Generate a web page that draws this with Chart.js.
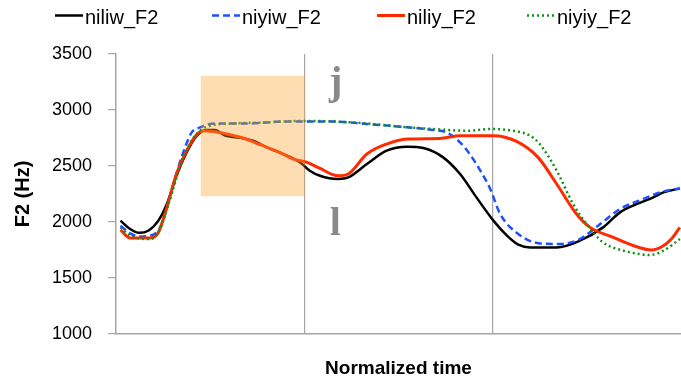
<!DOCTYPE html>
<html><head><meta charset="utf-8">
<script src="https://cdn.jsdelivr.net/npm/chart.js@4"></script>
<style>html,body{margin:0;padding:0;background:#fff}</style>
</head><body>
<canvas id="c" width="681" height="382"></canvas>
<script>
// ---- data ----
const seriesNames = ['niliw_F2', 'niyiw_F2', 'niliy_F2', 'niyiy_F2'];

const niliwTime = [0.8,2.5,4.1,5.7,7.5,9.0,10.7,12.5,14.3,16.1,17.5,19.3,21.4,24.3,26.7,29.6,32.6,34.3,36.1,39.3,41.1,44.4,47.9,51.5,54.4,57.9,60.9,63.8,66.8,69.2,71.2,73.3,78.0,82.1,86.2,89.2,92.2,95.1,96.9,99.8];
const niliwF2   = [2012,1938,1904,1922,2012,2160,2413,2621,2771,2821,2821,2771,2755,2726,2666,2607,2532,2458,2413,2384,2398,2518,2637,2672,2660,2577,2428,2220,2012,1878,1797,1773,1773,1833,1952,2086,2161,2220,2264,2300];

const niyiwTime = [0.8,2.5,4.2,6.6,8.1,9.9,11.6,13.4,14.9,17.5,23.7,29.6,36.1,39.6,44.4,50.3,56.2,58.5,60.9,62.7,64.4,66.2,68.0,71.2,75.0,78.6,82.1,85.7,89.2,93.3,96.9,99.8];
const niyiwF2   = [1967,1898,1871,1887,1982,2295,2577,2800,2845,2880,2880,2898,2898,2895,2875,2851,2821,2800,2711,2600,2465,2300,2071,1893,1809,1804,1848,1982,2116,2205,2273,2300];

const niliyTime = [0.8,2.5,6.0,7.5,9.0,10.7,12.5,14.3,15.5,17.2,19.6,22.5,25.5,29.0,31.4,33.8,36.1,39.3,41.1,44.4,47.9,51.5,57.3,60.9,66.8,70.9,74.7,78.0,81.5,83.9,88.0,91.6,94.8,96.6,98.3,99.8];
const niliyF2   = [1929,1857,1857,1907,2130,2429,2637,2780,2815,2809,2786,2750,2690,2621,2562,2532,2478,2413,2429,2607,2696,2741,2746,2771,2771,2720,2577,2339,2071,1952,1863,1788,1750,1779,1848,1952];

const niyiyTime = [0.8,2.5,6.0,7.5,9.3,11.3,13.4,14.9,16.6,20.8,26.7,32.6,38.5,44.4,50.3,56.2,62.1,66.2,70.9,73.3,75.0,78.0,80.9,83.3,86.2,89.8,92.7,94.5,96.9,99.8];
const niyiyF2   = [1952,1878,1848,1907,2161,2487,2726,2815,2860,2880,2889,2902,2898,2880,2851,2830,2815,2830,2809,2771,2696,2458,2161,1982,1818,1744,1714,1705,1744,1848];

const yMin = 1000, yMax = 3500, yStep = 500;
const xTitle = 'Normalized time';
const yTitle = 'F2 (Hz)';
const boundaryTimes = [100 / 3, 200 / 3];          // vertical guide lines
const highlightTime = [15.0, 33.4];                 // shaded box, time range
const highlightF2 = [2230, 3305];                   // shaded box, F2 range
const segmentLabels = ['j', 'l'];
const segmentLabelTime = [38.9, 38.8];
const segmentLabelF2 = [3143, 1884];

// ---- styling ----
const FONT = '"Liberation Sans", Arial, sans-serif';
const styles = [
  { color: '#000000', width: 2.5, dash: [] },
  { color: '#1f4fff', width: 2.5, dash: [7, 4] },
  { color: '#ff2a00', width: 3,   dash: [] },
  { color: '#129212', width: 2.5, dash: [2, 3] }
];
const series = [
  [niliwTime, niliwF2], [niyiwTime, niyiwF2], [niliyTime, niliyF2], [niyiyTime, niyiyF2]
];

const datasets = series.map(([t, v], i) => ({
  label: seriesNames[i],
  data: t.map((x, k) => ({ x: x, y: v[k] })),
  borderColor: styles[i].color,
  backgroundColor: styles[i].color,
  borderWidth: styles[i].width,
  borderDash: styles[i].dash,
  pointRadius: 0,
  cubicInterpolationMode: 'monotone',
  fill: false,
  order: 4 - i
}));

// shaded box + segment letters drawn over the lines
const overlayPlugin = {
  id: 'overlay',
  afterDatasetsDraw(chart) {
    const { ctx, scales: { x, y } } = chart;
    ctx.save();
    const x0 = x.getPixelForValue(highlightTime[0]), x1 = x.getPixelForValue(highlightTime[1]);
    const y0 = y.getPixelForValue(highlightF2[1]), y1 = y.getPixelForValue(highlightF2[0]);
    ctx.fillStyle = 'rgba(250,160,40,0.36)';
    ctx.fillRect(x0, y0, x1 - x0, y1 - y0);
    ctx.fillStyle = '#8a8a8a';
    ctx.font = 'bold 40px "Liberation Serif", "DejaVu Serif", serif';
    ctx.textAlign = 'center';
    ctx.textBaseline = 'alphabetic';
    segmentLabels.forEach((s, i) => {
      ctx.fillText(s, x.getPixelForValue(segmentLabelTime[i]), y.getPixelForValue(segmentLabelF2[i]));
    });
    ctx.restore();
  }
};

// legend drawn as line samples + text
const legendPlugin = {
  id: 'lineLegend',
  afterDraw(chart) {
    const { ctx } = chart;
    const starts = [55, 212, 377, 527];
    const len = 28;
    ctx.save();
    ctx.font = '20px ' + FONT;
    ctx.textBaseline = 'middle';
    ctx.textAlign = 'left';
    chart.data.datasets.forEach((ds, i) => {
      ctx.strokeStyle = ds.borderColor;
      ctx.lineWidth = ds.borderWidth;
      ctx.setLineDash(ds.borderDash);
      ctx.beginPath();
      ctx.moveTo(starts[i], 15.5);
      ctx.lineTo(starts[i] + len, 15.5);
      ctx.stroke();
      ctx.setLineDash([]);
      ctx.fillStyle = '#000';
      ctx.fillText(ds.label, starts[i] + len + 2, 18);
    });
    ctx.restore();
  }
};

new Chart(document.getElementById('c'), {
  type: 'line',
  data: { datasets },
  options: {
    responsive: false,
    devicePixelRatio: 1,
    animation: false,
    layout: { padding: { top: 54, right: 0, bottom: 0, left: 0 } },
    plugins: { legend: { display: false }, tooltip: { enabled: false } },
    scales: {
      x: {
        type: 'linear', min: 0, max: 100,
        afterBuildTicks: s => { s.ticks = boundaryTimes.map(v => ({ value: v })); },
        afterFit: s => { s.height = 48; },
        ticks: { display: false },
        grid: { color: '#a6a6a6', lineWidth: 1.2, drawTicks: false },
        border: { display: true, color: '#a6a6a6', width: 1.5 },
        title: { display: true, text: xTitle, color: '#000',
                 font: { family: FONT, size: 19, weight: 'bold' }, padding: { top: 0, bottom: 2 } }
      },
      y: {
        min: yMin, max: yMax,
        afterFit: s => { s.width = 116; },
        ticks: { stepSize: yStep, color: '#000', padding: 16, font: { family: FONT, size: 18 },
                 callback: v => String(v) },
        grid: { drawOnChartArea: false, drawTicks: true, tickLength: 8, color: '#a6a6a6', lineWidth: 1.2 },
        border: { display: true, color: '#a6a6a6', width: 1.5 },
        title: { display: true, text: yTitle, color: '#000',
                 font: { family: FONT, size: 20, weight: 'bold' }, padding: { top: 11 } }
      }
    }
  },
  plugins: [overlayPlugin, legendPlugin]
});
</script>
</body></html>
